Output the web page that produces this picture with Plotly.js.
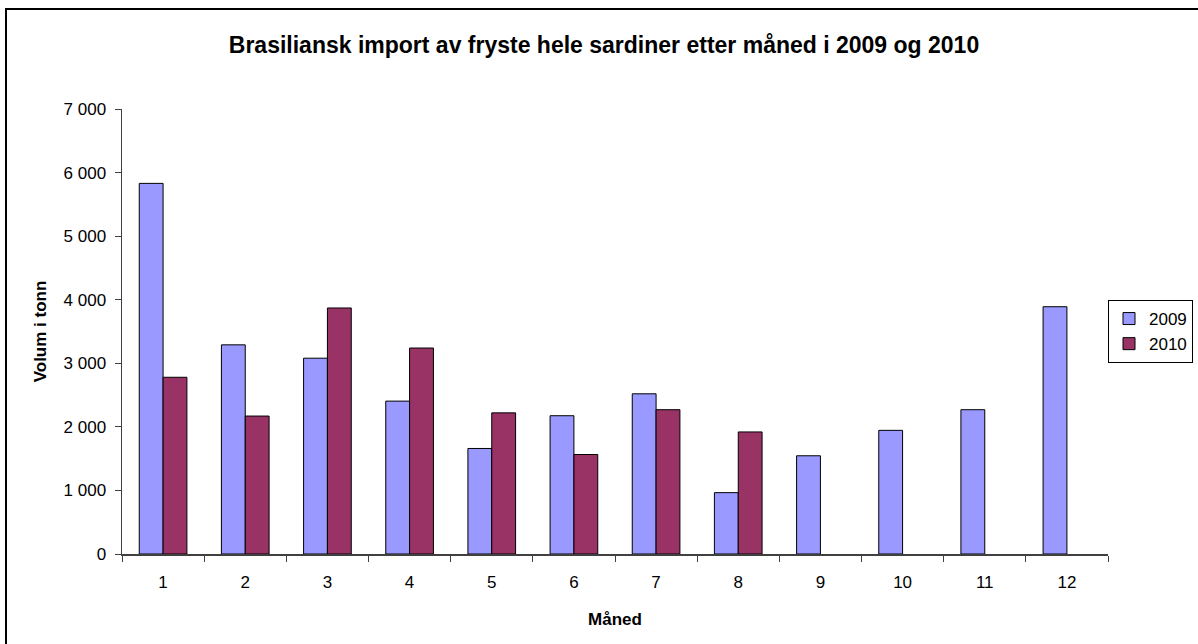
<!DOCTYPE html>
<html>
<head>
<meta charset="utf-8">
<script src="https://cdn.plot.ly/plotly-3.0.1.min.js"></script>
<style>html,body{margin:0;padding:0;background:#fff;}#chart{width:1198px;height:644px;}</style>
</head>
<body>
<div id="chart"></div>
<script>
var months = ['1','2','3','4','5','6','7','8','9','10','11','12'];
var values2009 = [5830, 3290, 3080, 2405, 1660, 2175, 2520, 965, 1545, 1945, 2270, 3890];
var values2010 = [2780, 2170, 3870, 3240, 2220, 1565, 2270, 1920, null, null, null, null];
var seriesNames = ['2009', '2010'];
var yTickVals = [0, 1000, 2000, 3000, 4000, 5000, 6000, 7000];
var yTickText = ['0', '1 000', '2 000', '3 000', '4 000', '5 000', '6 000', '7 000'];

var font = 'Liberation Sans, Arial, sans-serif';
var traces = [
  {type:'bar', name:seriesNames[0], x:months, y:values2009,
   marker:{color:'#9999FF', line:{color:'#000000', width:1}}},
  {type:'bar', name:seriesNames[1], x:months, y:values2010,
   marker:{color:'#993366', line:{color:'#000000', width:1}}}
];
var L = 122, R = 90, T = 109, B = 90, W = 1198, H = 644;
var pw = W - L - R, ph = H - T - B;
function px(x){ return (x - L) / pw; }
function py(y){ return (H - B - y) / ph; }
var layout = {
  width: W, height: H,
  margin: {l:L, r:R, t:T, b:B, pad:0, autoexpand:false},
  paper_bgcolor:'#ffffff', plot_bgcolor:'#ffffff',
  font:{family:font, size:17, color:'#000'},
  title:{text:'<b>Brasiliansk import av fryste hele sardiner etter måned i 2009 og 2010</b>',
         font:{family:font, size:23, color:'#000'}, x:px(604), xanchor:'center', xref:'paper', y:1-45/H, yanchor:'middle'},
  barmode:'group', bargap:0.42, bargroupgap:0,
  xaxis:{type:'category', showline:true, linecolor:'#404040', linewidth:2,
         ticks:'outside', tickson:'boundaries', ticklen:6, tickcolor:'#404040',
         showgrid:false, zeroline:false, tickfont:{size:17}, ticklabelstandoff:12,
         title:{text:'<b>Måned</b>', font:{size:17}, standoff:22}},
  yaxis:{range:[0,7000], showline:true, linecolor:'#404040', linewidth:1.5,
         ticks:'outside', ticklen:6, tickcolor:'#404040', showgrid:false, zeroline:false,
         tickvals:yTickVals, ticktext:yTickText, tickfont:{size:17}, ticklabelstandoff:5,
         title:{text:'<b>Volum i tonn</b>', font:{size:17}, standoff:12}},
  legend:{x:px(1108), y:py(300), xanchor:'left', yanchor:'top',
          bordercolor:'#000', borderwidth:1, bgcolor:'#fff',
          font:{size:17}, tracegroupgap:0, itemwidth:30},
  shapes:[{type:'rect', xref:'paper', yref:'paper',
           x0:px(6), x1:px(1210), y0:py(660), y1:py(9),
           line:{color:'#000', width:2}, fillcolor:'rgba(0,0,0,0)', layer:'below'}]
};
Plotly.newPlot('chart', traces, layout, {displayModeBar:false, staticPlot:true});
</script>
</body>
</html>
